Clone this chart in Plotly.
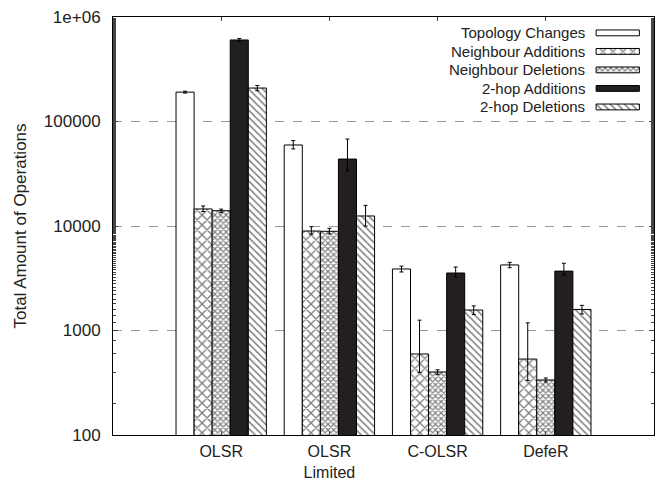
import plotly.graph_objects as go

categories = ["OLSR", "OLSR<br>Limited", "C-OLSR", "DefeR"]
series_names = ["Topology Changes", "Neighbour Additions", "Neighbour Deletions",
                "2-hop Additions", "2-hop Deletions"]
topology = [191000, 59600, 3880, 4240]
nb_add = [14550, 8950, 596, 533]
nb_del = [14000, 8900, 401, 336]
hop_add = [603000, 43700, 3550, 3700]
hop_del = [209000, 12470, 1570, 1590]

topology_err_hi = [4000, 6000, 250, 250]
topology_err_lo = [4000, 5000, 250, 250]
nb_add_err_hi = [1000, 900, 660, 650]
nb_add_err_lo = [800, 600, 200, 200]
nb_del_err_hi = [500, 600, 20, 15]
nb_del_err_lo = [500, 500, 20, 15]
hop_add_err_hi = [20000, 24300, 500, 700]
hop_add_err_lo = [20000, 10000, 300, 300]
hop_del_err_hi = [12000, 3300, 150, 150]
hop_del_err_lo = [12000, 2500, 150, 150]

tick_vals = [100, 1000, 10000, 100000, 1000000]
tick_text = ["100", "1000", "10000", "100000", "1e+06"]

values = [topology, nb_add, nb_del, hop_add, hop_del]
err_hi = [topology_err_hi, nb_add_err_hi, nb_del_err_hi, hop_add_err_hi, hop_del_err_hi]
err_lo = [topology_err_lo, nb_add_err_lo, nb_del_err_lo, hop_add_err_lo, hop_del_err_lo]
patterns = [
    dict(shape=""),
    dict(shape="x", size=7, solidity=0.35, fgcolor="black", bgcolor="white"),
    dict(shape="x", size=4, solidity=0.5, fgcolor="black", bgcolor="white"),
    dict(shape=""),
    dict(shape="\\", size=5, solidity=0.3, fgcolor="black", bgcolor="white"),
]
colors = ["white", "white", "white", "#231f20", "white"]

bar_w = 0.167
xpos = [1, 2, 3, 4]

fig = go.Figure()
for i, name in enumerate(series_names):
    off = (i - 2) * bar_w
    fig.add_trace(go.Bar(
        x=[p + off for p in xpos],
        y=values[i],
        width=bar_w,
        name=name,
        showlegend=False,
        marker=dict(color=colors[i], pattern=patterns[i],
                    line=dict(color="black", width=1)),
        error_y=dict(type="data", symmetric=False, array=err_hi[i],
                     arrayminus=err_lo[i], color="black", thickness=1, width=2),
    ))

# Gnuplot-style key: right-aligned text with swatch on the right
key_text_x = 0.876
key_sw_x0 = 0.893
key_sw_len = 0.08
key_top = 0.962
key_step = 0.0443
key_thick = 0.014
for i, name in enumerate(series_names):
    yk = key_top - i * key_step
    fig.add_annotation(x=key_text_x, y=yk, xref="paper", yref="paper",
                       text=name, showarrow=False, xanchor="right", yanchor="middle",
                       font=dict(size=15, color="#222"))
    fig.add_trace(go.Bar(
        x=[key_sw_len], y=[yk], base=[key_sw_x0], orientation="h",
        width=key_thick, xaxis="x2", yaxis="y2", showlegend=False,
        hoverinfo="skip",
        marker=dict(color=colors[i], pattern=patterns[i],
                    line=dict(color="black", width=1)),
    ))

fig.update_layout(
    width=661, height=485,
    margin=dict(l=113, r=7, t=17, b=50),
    paper_bgcolor="white", plot_bgcolor="white",
    barmode="overlay",
    font=dict(family="Liberation Sans, Arial, sans-serif", size=16, color="#222"),
    showlegend=False,
    xaxis=dict(range=[0, 5], tickvals=xpos, ticktext=categories,
               showline=True, linecolor="black", mirror="ticks",
               ticks="inside", ticklen=4, showgrid=False, zeroline=False,
               ticklabelstandoff=2, automargin=False,
               tickfont=dict(size=16)),
    yaxis=dict(type="log", range=[2, 6], tickvals=tick_vals, ticktext=tick_text,
               showline=True, linecolor="black", mirror="ticks",
               ticks="inside", ticklen=5, ticklabelstandoff=8, automargin=False,
               minor=dict(ticks="inside", ticklen=3, showgrid=False),
               showgrid=True, gridcolor="#999", griddash="dash", gridwidth=1,
               zeroline=False, tickfont=dict(size=17),
               title=dict(text="Total Amount of Operations", font=dict(size=17),
                          standoff=12)),
    xaxis2=dict(overlaying="x", range=[0, 1], visible=False, fixedrange=True),
    yaxis2=dict(overlaying="y", range=[0, 1], visible=False, fixedrange=True),
)

fig.write_html("out.html")
